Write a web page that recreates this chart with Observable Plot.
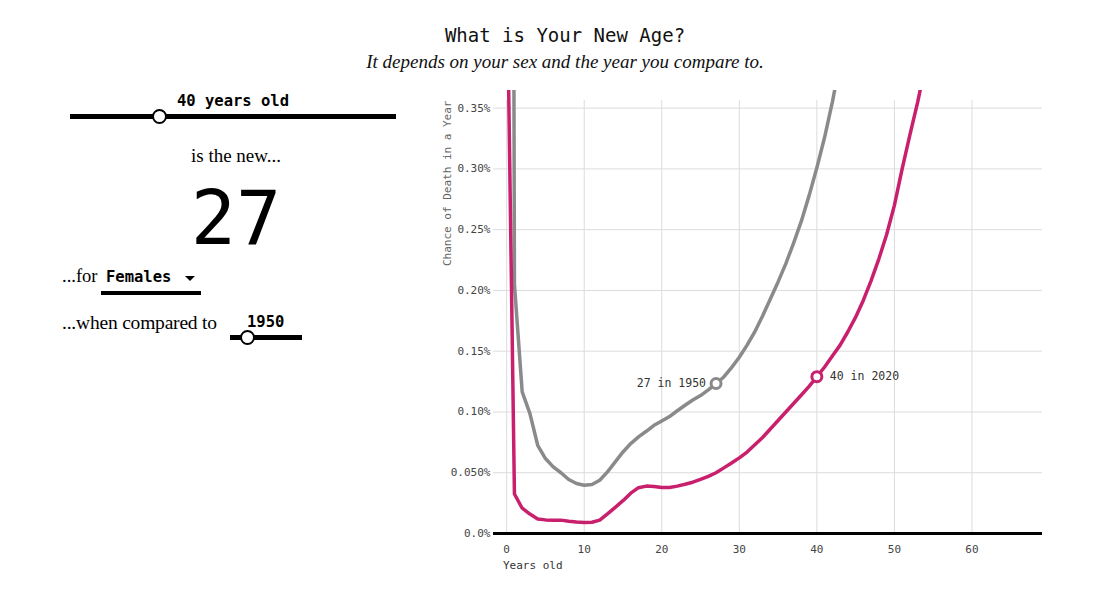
<!DOCTYPE html>
<html>
<head>
<meta charset="utf-8">
<script src="https://cdn.jsdelivr.net/npm/d3@7"></script>
<script src="https://cdn.jsdelivr.net/npm/@observablehq/plot@0.6"></script>
<style>
  html, body { margin: 0; padding: 0; background: #fff; }
  body { width: 1100px; height: 600px; position: relative; overflow: hidden; }
  .abs { position: absolute; white-space: nowrap; }
  .mono { font-family: "DejaVu Sans Mono", "Liberation Mono", monospace; }
  .serif { font-family: "Liberation Serif", "DejaVu Serif", serif; }
  #title { left: 0; width: 1130px; top: 24px; text-align: center; font-size: 19px; color: #111; }
  #subtitle { left: 0; width: 1130px; top: 51px; text-align: center; font-size: 19px; font-style: italic; color: #111; }
  .track { position: absolute; background: #000; }
  .knob { position: absolute; width: 11px; height: 11px; border: 2px solid #000; border-radius: 50%; background: #fff; }
  #chart { position: absolute; left: 430px; top: 80px; }
</style>
</head>
<body>
<div id="title" class="abs mono">What is Your New Age?</div>
<div id="subtitle" class="abs serif">It depends on your sex and the year you compare to.</div>

<!-- left controls -->
<div class="abs mono" style="left:177px; top:92px; font-size:15.5px; font-weight:bold;">40 years old</div>
<div class="track" style="left:70px; top:114px; width:326px; height:5px;"></div>
<div class="knob" style="left:152px; top:109px;"></div>

<div class="abs serif" style="left:0; width:472px; text-align:center; top:145px; font-size:19px;">is the new...</div>
<div class="abs mono" style="left:0; width:472px; text-align:center; top:173px; font-size:75px; line-height:90px;">27</div>

<div class="abs serif" style="left:62px; top:266px; font-size:18.5px;">...for</div>
<div class="abs mono" style="left:106px; top:268px; font-size:15.5px; font-weight:bold;">Females</div>
<div class="abs" style="left:185px; top:276px; width:0; height:0; border-left:5px solid transparent; border-right:5px solid transparent; border-top:5px solid #000;"></div>
<div class="track" style="left:101px; top:291px; width:100px; height:4px;"></div>

<div class="abs serif" style="left:62px; top:312px; font-size:19.5px; letter-spacing:-0.2px;">...when compared to</div>
<div class="abs mono" style="left:247px; top:313px; font-size:15.5px; font-weight:bold;">1950</div>
<div class="track" style="left:230px; top:335px; width:72px; height:5px;"></div>
<div class="knob" style="left:240px; top:330px;"></div>

<div id="chart"></div>
<div class="abs mono" style="left:503px; top:559px; font-size:11px; color:#333;">Years old</div>

<script>
// ---- data (chance of death in a year, in percent) ----
const ages2020 = d3.range(0, 55);
const females2020 = [0.48, 0.0325, 0.0208, 0.016, 0.012, 0.0112, 0.011, 0.011, 0.0101, 0.0094,
  0.009, 0.0093, 0.011, 0.0162, 0.0215, 0.027, 0.0332, 0.0377, 0.039, 0.0386,
  0.0379, 0.0379, 0.039, 0.0405, 0.0422, 0.0446, 0.047, 0.050, 0.054, 0.058,
  0.0622, 0.067, 0.073, 0.079, 0.086, 0.093, 0.100, 0.107, 0.114, 0.121,
  0.129, 0.137, 0.146, 0.155, 0.166, 0.178, 0.192, 0.208, 0.226, 0.246,
  0.27, 0.30, 0.328, 0.355, 0.385];
const ages1950 = d3.range(0, 44);
const females1950 = [2.7, 0.205, 0.1165, 0.0987, 0.0726, 0.0617, 0.0548, 0.050, 0.0444, 0.0411,
  0.0397, 0.0403, 0.0438, 0.0507, 0.0589, 0.0671, 0.074, 0.0795, 0.0841, 0.089,
  0.0926, 0.0962, 0.101, 0.1055, 0.1098, 0.1135, 0.1182, 0.1234, 0.1288, 0.1365,
  0.145, 0.155, 0.166, 0.179, 0.193, 0.207, 0.222, 0.239, 0.257, 0.278,
  0.301, 0.326, 0.355, 0.388];
const highlightAges = [40, 27];
const highlightYears = ["2020", "1950"];
const xTicks = [0, 10, 20, 30, 40, 50, 60];
const yTicks = [0, 0.05, 0.10, 0.15, 0.20, 0.25, 0.30, 0.35];
const yTickLabels = ["0.0%", "0.050%", "0.10%", "0.15%", "0.20%", "0.25%", "0.30%", "0.35%"];
const yTitle = "Chance of Death in a Year";

const pink = "#c8206d";
const grey = "#8a8a8a";

const d2020 = ages2020.map((a, i) => ({age: a, p: females2020[i]}));
const d1950 = ages1950.map((a, i) => ({age: a, p: females1950[i]}));
const hl = [
  {age: highlightAges[0], p: females2020[ages2020.indexOf(highlightAges[0])], year: highlightYears[0], color: pink},
  {age: highlightAges[1], p: females1950[ages1950.indexOf(highlightAges[1])], year: highlightYears[1], color: grey}
];
const yLabelMap = new Map(yTicks.map((t, i) => [t, yTickLabels[i]]));
const monoFont = "DejaVu Sans Mono, Liberation Mono, monospace";

const chart = Plot.plot({
  width: 620,
  height: 500,
  marginLeft: 63,
  marginRight: 8,
  marginTop: 10,
  marginBottom: 47,
  style: {fontFamily: monoFont, fontSize: "11px", color: "#333", background: "#fff"},
  x: {domain: [-1.7, 69.1]},
  y: {domain: [0, 0.3645]},
  marks: [
    Plot.gridY(yTicks.slice(1), {stroke: "#dcdcdc", strokeOpacity: 1, strokeWidth: 1}),
    Plot.ruleX(xTicks, {y1: 0, y2: 0.3563, stroke: "#dcdcdc", strokeWidth: 1}),
    Plot.axisY(yTicks, {tickSize: 0, tickPadding: 3, tickFormat: d => yLabelMap.get(d), label: null, fill: "#444", fontSize: 11}),
    Plot.axisX(xTicks, {tickSize: 0, tickPadding: 12, label: null, fill: "#444", fontSize: 11}),
    Plot.text([yTitle], {frameAnchor: "top-left", rotate: -90, textAnchor: "end", dx: -50, dy: 10, fill: "#666", fontSize: 11}),
    Plot.line(d1950, {x: "age", y: "p", stroke: grey, strokeWidth: 3.5, clip: true}),
    Plot.line(d2020, {x: "age", y: "p", stroke: pink, strokeWidth: 3.5, clip: true}),
    Plot.ruleY([0], {stroke: "#000", strokeWidth: 3}),
    Plot.dot(hl, {x: "age", y: "p", r: 5, fill: "#fff", stroke: "color", strokeWidth: 3}),
    Plot.text(hl.slice(0, 1), {x: "age", y: "p", text: d => `${d.age} in ${d.year}`, textAnchor: "start", dx: 13, fill: "#333", fontSize: 11.5}),
    Plot.text(hl.slice(1), {x: "age", y: "p", text: d => `${d.age} in ${d.year}`, textAnchor: "end", dx: -10, fill: "#333", fontSize: 11.5})
  ]
});
document.getElementById("chart").appendChild(chart);
</script>
</body>
</html>
